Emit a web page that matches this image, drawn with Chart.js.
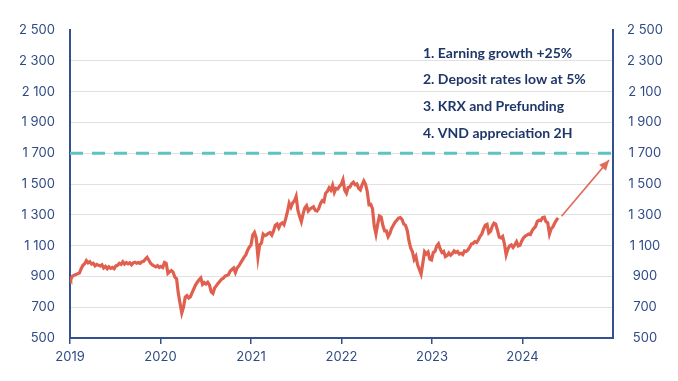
<!DOCTYPE html>
<html><head><meta charset="utf-8">
<script src="https://cdn.jsdelivr.net/npm/chart.js@4"></script>
<style>html,body{margin:0;padding:0;background:#fff}#wrap{width:678px;height:381px}</style>
</head><body><div id="wrap"><canvas id="c" width="678" height="381"></canvas></div>
<script>
// ---------- DATA ----------
const dates = [
'2019-01-02','2019-01-04','2019-01-11','2019-01-18','2019-01-25','2019-02-01','2019-02-08','2019-02-15','2019-02-22','2019-03-01','2019-03-08','2019-03-15','2019-03-22','2019-03-29','2019-04-05','2019-04-12','2019-04-19','2019-04-26','2019-05-03','2019-05-10','2019-05-17','2019-05-24','2019-05-31','2019-06-07','2019-06-14','2019-06-21','2019-06-28','2019-07-05','2019-07-12','2019-07-19','2019-07-26','2019-08-02','2019-08-09','2019-08-16','2019-08-23','2019-08-30','2019-09-06','2019-09-13','2019-09-20','2019-09-27','2019-10-04','2019-10-11','2019-10-18','2019-10-25','2019-11-01','2019-11-08','2019-11-15','2019-11-22','2019-11-29','2019-12-06','2019-12-13','2019-12-20','2019-12-27',
'2020-01-03','2020-01-10','2020-01-17','2020-01-24','2020-01-31','2020-02-07','2020-02-14','2020-02-21','2020-02-28','2020-03-06','2020-03-13','2020-03-20','2020-03-27','2020-04-03','2020-04-10','2020-04-17','2020-04-24','2020-05-01','2020-05-08','2020-05-15','2020-05-22','2020-05-29','2020-06-05','2020-06-12','2020-06-19','2020-06-26','2020-07-03','2020-07-10','2020-07-17','2020-07-24','2020-07-31','2020-08-07','2020-08-14','2020-08-21','2020-08-28','2020-09-04','2020-09-11','2020-09-18','2020-09-25','2020-10-02','2020-10-09','2020-10-16','2020-10-23','2020-10-30','2020-11-06','2020-11-13','2020-11-20','2020-11-27','2020-12-04','2020-12-11','2020-12-18','2020-12-25',
'2021-01-01','2021-01-08','2021-01-15','2021-01-22','2021-01-29','2021-02-05','2021-02-12','2021-02-19','2021-02-26','2021-03-05','2021-03-12','2021-03-19','2021-03-26','2021-04-02','2021-04-09','2021-04-16','2021-04-23','2021-04-30','2021-05-07','2021-05-14','2021-05-21','2021-05-28','2021-06-04','2021-06-11','2021-06-18','2021-06-25','2021-07-02','2021-07-09','2021-07-16','2021-07-23','2021-07-30','2021-08-06','2021-08-13','2021-08-20','2021-08-27','2021-09-03','2021-09-10','2021-09-17','2021-09-24','2021-10-01','2021-10-08','2021-10-15','2021-10-22','2021-10-29','2021-11-05','2021-11-12','2021-11-19','2021-11-26','2021-12-03','2021-12-10','2021-12-17','2021-12-24','2021-12-31',
'2022-01-07','2022-01-14','2022-01-21','2022-01-28','2022-02-04','2022-02-11','2022-02-18','2022-02-25','2022-03-04','2022-03-11','2022-03-18','2022-03-25','2022-04-01','2022-04-08','2022-04-15','2022-04-22','2022-04-29','2022-05-06','2022-05-13','2022-05-20','2022-05-27','2022-06-03','2022-06-10','2022-06-17','2022-06-24','2022-07-01','2022-07-08','2022-07-15','2022-07-22','2022-07-29','2022-08-05','2022-08-12','2022-08-19','2022-08-26','2022-09-02','2022-09-09','2022-09-16','2022-09-23','2022-09-30','2022-10-07','2022-10-14','2022-10-21','2022-10-28','2022-11-04','2022-11-11','2022-11-18','2022-11-25','2022-12-02','2022-12-09','2022-12-16','2022-12-23','2022-12-30',
'2023-01-06','2023-01-13','2023-01-20','2023-01-27','2023-02-03','2023-02-10','2023-02-17','2023-02-24','2023-03-03','2023-03-10','2023-03-17','2023-03-24','2023-03-31','2023-04-07','2023-04-14','2023-04-21','2023-04-28','2023-05-05','2023-05-12','2023-05-19','2023-05-26','2023-06-02','2023-06-09','2023-06-16','2023-06-23','2023-06-30','2023-07-07','2023-07-14','2023-07-21','2023-07-28','2023-08-04','2023-08-11','2023-08-18','2023-08-25','2023-09-01','2023-09-08','2023-09-15','2023-09-22','2023-09-29','2023-10-06','2023-10-13','2023-10-20','2023-10-27','2023-11-03','2023-11-10','2023-11-17','2023-11-24','2023-12-01','2023-12-08','2023-12-15','2023-12-22','2023-12-29',
'2024-01-05','2024-01-12','2024-01-19','2024-01-26','2024-02-02','2024-02-09','2024-02-16','2024-02-23','2024-03-01','2024-03-08','2024-03-15','2024-03-22','2024-03-29','2024-04-05','2024-04-12','2024-04-19','2024-04-26','2024-05-03','2024-05-10','2024-05-17','2024-05-24'
];
const vnIndex = [
885,880,902,908,912,918,922,950,972,982,1002,988,996,980,985,968,978,972,968,975,955,965,950,962,952,958,950,968,972,985,978,995,980,990,982,988,975,988,992,985,990,985,995,998,1012,1024,1005,985,975,968,962,970,958,
965,958,990,985,920,930,938,928,895,885,790,725,662,700,765,775,760,768,795,820,845,862,878,890,848,860,850,862,845,800,790,825,840,855,868,882,888,902,905,912,935,945,955,925,955,968,988,1005,1025,1040,1068,1090,
1103,1168,1185,1150,1025,1105,1115,1175,1165,1170,1180,1185,1168,1195,1232,1240,1215,1240,1248,1235,1275,1320,1375,1350,1378,1390,1420,1330,1290,1255,1305,1345,1360,1325,1338,1345,1352,1330,1325,1340,1372,1392,1385,1440,1452,1475,1460,1492,1445,1472,1468,1485,1498,
1528,1460,1440,1478,1480,1502,1512,1495,1500,1472,1462,1495,1520,1498,1450,1365,1368,1340,1228,1175,1240,1292,1285,1230,1195,1195,1158,1178,1212,1232,1252,1265,1278,1282,1270,1240,1232,1200,1132,1085,1060,1010,1030,975,945,915,985,1060,1045,1058,1012,1007,
1055,1062,1098,1112,1078,1055,1062,1028,1035,1052,1038,1048,1065,1055,1062,1045,1050,1042,1065,1062,1072,1090,1110,1115,1125,1120,1138,1160,1175,1208,1232,1238,1182,1192,1225,1246,1240,1200,1155,1150,1160,1112,1040,1078,1098,1105,1088,1105,1125,1098,1102,1130,
1150,1162,1168,1175,1172,1198,1212,1225,1258,1265,1262,1282,1285,1255,1248,1175,1210,1222,1245,1265,1280
];
const targetDates = ['2019-01-01','2025-01-01'];
const targetValues = [1700, 1700];
const arrowDates = ['2024-06-07','2024-12-16'];
const arrowValues = [1290, 1655];
const yearTicks = [2019, 2020, 2021, 2022, 2023, 2024];
const notes = ['1. Earning growth +25%','2. Deposit rates low at 5%','3. KRX and Prefunding','4. VND appreciation 2H'];

// ---------- HELPERS ----------
function toYear(s){const [y,m,d]=s.split('-').map(Number);const t=Date.UTC(y,m-1,d),a=Date.UTC(y,0,1),b=Date.UTC(y+1,0,1);return y+(t-a)/(b-a);}
const pts = (ds, vs) => ds.map((d,i)=>({x:toYear(d), y:vs[i]}));
const fmt = v => String(v).replace(/\B(?=(\d{3})+(?!\d))/g,' ');

const NAVY = '#2f4b86';
const AXIS = '#34508e';
const RED = '#e0604f';

const overlay = {
  id:'overlay',
  afterDatasetsDraw(chart){
    const {ctx, chartArea} = chart;
    const m = chart.getDatasetMeta(2).data;
    if (m.length>1){
      const a=m[0], b=m[1];
      const ang=Math.atan2(b.y-a.y,b.x-a.x);
      const L=10, W=4.5;
      ctx.save();
      ctx.fillStyle='#e36a5a';
      ctx.beginPath();
      ctx.moveTo(b.x,b.y);
      ctx.lineTo(b.x-L*Math.cos(ang)+W*Math.sin(ang), b.y-L*Math.sin(ang)-W*Math.cos(ang));
      ctx.lineTo(b.x-L*Math.cos(ang)-W*Math.sin(ang), b.y-L*Math.sin(ang)+W*Math.cos(ang));
      ctx.closePath(); ctx.fill(); ctx.restore();
    }
    ctx.save();
    ctx.font = 'bold 14px Lato';
    ctx.fillStyle = '#1f3768';
    ctx.textBaseline = 'middle';
    ctx.textAlign = 'left';
    notes.forEach((t,i)=>ctx.fillText(t, chartArea.left+353, chartArea.top+23+i*26.7));
    ctx.restore();
  }
};

const tickFont = {family:'Inter', size:13};

new Chart(document.getElementById('c'), {
  type:'line',
  data:{datasets:[
    {data:pts(targetDates,targetValues), borderColor:'#5ec3c2', borderWidth:3, borderDash:[13,9], pointRadius:0, yAxisID:'y'},
    {data:pts(dates,vnIndex), borderColor:RED, borderWidth:3.2, pointRadius:0, tension:0, yAxisID:'y'},
    {data:pts(arrowDates,arrowValues), borderColor:'#e36a5a', borderWidth:1.6, pointRadius:0, yAxisID:'y'}
  ]},
  options:{
    responsive:false, animation:false, devicePixelRatio:1,
    layout:{padding:{top:30,left:0,right:0,bottom:0}},
    plugins:{legend:{display:false}, tooltip:{enabled:false}},
    scales:{
      x:{type:'linear', min:2019, max:2025,
        afterBuildTicks: s => { s.ticks = yearTicks.concat([2025]).map(v=>({value:v})); },
        afterFit: s => { s.height = 43; },
        ticks:{autoSkip:false, maxRotation:0, padding:5, color:NAVY, font:tickFont, callback:v => v<2025 ? String(v) : ''},
        grid:{drawOnChartArea:false, drawTicks:true, tickLength:6, lineWidth:1.5, color: c => (c.tick && c.tick.value===2025) ? 'rgba(0,0,0,0)' : AXIS},
        border:{color:AXIS, width:2}
      },
      y:{position:'left', min:500, max:2500,
        afterFit: s => { s.width = 70; },
        ticks:{stepSize:200, padding:15, color:NAVY, font:tickFont, callback:fmt},
        grid:{drawTicks:false, lineWidth:1, color: c => (c.tick && c.tick.value===2500) ? 'rgba(0,0,0,0)' : '#e1e1e1'},
        border:{color:AXIS, width:2}
      },
      y2:{position:'right', min:500, max:2500,
        afterFit: s => { s.width = 65; },
        ticks:{stepSize:200, padding:14, crossAlign:'center', color:NAVY, font:tickFont, callback:fmt},
        grid:{drawOnChartArea:false, drawTicks:false},
        border:{color:AXIS, width:2}
      }
    }
  },
  plugins:[overlay]
});
</script></body></html>
